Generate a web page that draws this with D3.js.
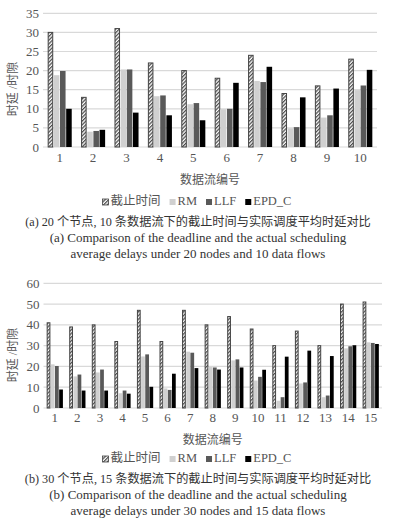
<!DOCTYPE html>
<html><head><meta charset="utf-8">
<script src="https://cdn.jsdelivr.net/npm/d3@7"></script>
<style>
body{margin:0;background:#fff;}
svg text{font-family:"Liberation Serif","Noto Sans CJK SC",serif;}
</style></head>
<body><svg id="c" width="398" height="520"></svg>
<script>
// ---- data ----
const seriesNames = ["截止时间","RM","LLF","EPD_C"];
const categoriesA = ["1","2","3","4","5","6","7","8","9","10"];
const deadlineA = [30,13,31,22,20,18,24,14,16,23];
const rmA       = [18.8,4.0,20.3,13.3,11.2,9.9,17.3,4.9,7.7,14.9];
const llfA      = [19.9,4.2,20.3,13.5,11.5,10.0,17.0,5.2,8.3,16.1];
const epdA      = [10.0,4.5,9.0,8.3,7.0,16.8,21.0,13.0,15.3,20.2];
const yTicksA   = [0,5,10,15,20,25,30,35];

const categoriesB = ["1","2","3","4","5","6","7","8","9","10","11","12","13","14","15"];
const deadlineB = [41,39,40,32,47,32,47,40,44,38,30,37,30,50,51];
const rmB       = [21.0,15.2,17.1,7.1,24.8,9.4,27.1,19.7,22.9,13.2,3.5,11.8,5.2,28.7,31.6];
const llfB      = [20.2,16.1,18.5,8.4,25.8,8.7,26.6,19.5,23.4,15.0,5.2,12.3,6.0,29.7,31.3];
const epdB      = [8.9,8.4,8.4,6.9,10.2,16.5,19.2,18.5,19.5,18.4,24.7,27.6,25.0,30.2,30.8];
const yTicksB   = [0,10,20,30,40,50,60];

const yTitle = "时延 /时隙";
const xTitle = "数据流编号";
const captionsA = ["(a) 20 个节点, 10 条数据流下的截止时间与实际调度平均时延对比",
  "(a) Comparison of the deadline and the actual scheduling",
  "average delays under 20 nodes and 10 data flows"];
const captionsB = ["(b) 30 个节点, 15 条数据流下的截止时间与实际调度平均时延对比",
  "(b) Comparison of the deadline and the actual scheduling",
  "average delays under 30 nodes and 15 data flows"];

// ---- drawing ----
const svg = d3.select("#c");
const defs = svg.append("defs");
const pat = defs.append("pattern").attr("id","hatch").attr("patternUnits","userSpaceOnUse")
  .attr("width",2.6).attr("height",2.6).attr("patternTransform","rotate(45)");
pat.append("rect").attr("width",2.6).attr("height",2.6).attr("fill","#fff");
pat.append("line").attr("x1",0.6).attr("y1",0).attr("x2",0.6).attr("y2",2.6)
  .attr("stroke","#4a4a4a").attr("stroke-width",1.3);

const fills = ["url(#hatch)","#d0d0d0","#595959","#000"];
const strokes = ["#444","none","none","none"];

function drawChart(o){
  const {cats, series, yTicks, yMax, x0, x1, yTop, yBot, labelY, titleY, legendY, capY} = o;
  const g = svg.append("g");
  const x = d3.scaleBand().domain(cats).range([x0,x1]).paddingInner(0.28).paddingOuter(0.14);
  const xs = d3.scaleBand().domain(d3.range(4)).range([0,x.bandwidth()]).paddingInner(0.1);
  const y = d3.scaleLinear().domain([0,yMax]).range([yBot,yTop]);

  // grid
  g.selectAll(".grid").data(yTicks).join("line")
    .attr("x1",x0).attr("x2",x1).attr("y1",d=>y(d)).attr("y2",d=>y(d))
    .attr("stroke","#d9d9d9").attr("stroke-width",1.2);
  // y tick labels
  g.selectAll(".yl").data(yTicks).join("text")
    .attr("x",x0-4).attr("y",d=>y(d)).attr("dy","0.35em")
    .attr("text-anchor","end").attr("font-size",13).attr("fill","#555").text(d=>d);
  // bars
  const rows = cats.map((c,i)=>({c, v: series.map(s=>s[i])}));
  const grp = g.selectAll(".grp").data(rows).join("g")
    .attr("transform",d=>`translate(${x(d.c)},0)`);
  grp.selectAll("rect").data(d=>d.v.map((v,k)=>({v,k}))).join("rect")
    .attr("x",d=>xs(d.k)+(d.k===0?0.5:0)).attr("width",d=>xs.bandwidth()-(d.k===0?1:0))
    .attr("y",d=>y(d.v)).attr("height",d=>y(0)-y(d.v))
    .attr("fill",d=>fills[d.k]).attr("stroke",d=>strokes[d.k]).attr("stroke-width",1);
  // x labels
  g.selectAll(".xl").data(cats).join("text")
    .attr("x",d=>x(d)+x.step()*0.36).attr("y",labelY)
    .attr("text-anchor","middle").attr("font-size",13).attr("fill","#555").text(d=>d);
  // y title
  g.append("text").attr("transform",`translate(17,${titleY}) rotate(-90)`)
    .attr("text-anchor","middle").attr("font-size",12).attr("fill","#555")
    .text(yTitle);
  // x title
  g.append("text").attr("x",(x0+x1)/2).attr("y",labelY+22).attr("text-anchor","middle")
    .attr("font-size",12).attr("fill","#555").text(xTitle);
  // legend
  const lg = g.append("g");
  let cx = 0;
  seriesNames.forEach((t,k)=>{
    const it = lg.append("g");
    it.append("rect").attr("x",0).attr("y",-6).attr("width",6).attr("height",6)
      .attr("fill",fills[k]).attr("stroke",strokes[k]).attr("stroke-width",0.8);
    const tx = it.append("text").attr("x",8).attr("y",0).attr("font-size",12.5)
      .attr("fill","#555").text(t);
    const w = 8 + tx.node().getComputedTextLength();
    it.attr("transform",`translate(${cx},${legendY})`);
    cx += w + 9;
  });
  const totalW = cx - 9;
  lg.attr("transform",`translate(${197 - totalW/2},0)`);
  // captions
  o.caps.forEach((t,i)=>{
    g.append("text").attr("x",198).attr("y",capY[i]).attr("text-anchor","middle")
      .attr("font-size",i===0?12.2:13).attr("fill","#333").text(t);
  });
}

drawChart({cats:categoriesA, series:[deadlineA,rmA,llfA,epdA], yTicks:yTicksA, yMax:35,
  x0:43, x1:377, yTop:13.3, yBot:147, labelY:162, titleY:89, legendY:205,
  caps:captionsA, capY:[226,242,258]});
drawChart({cats:categoriesB, series:[deadlineB,rmB,llfB,epdB], yTicks:yTicksB, yMax:60,
  x0:43.5, x1:382, yTop:283.3, yBot:408, labelY:422, titleY:355, legendY:462,
  caps:captionsB, capY:[483,499,515]});
</script></body></html>
